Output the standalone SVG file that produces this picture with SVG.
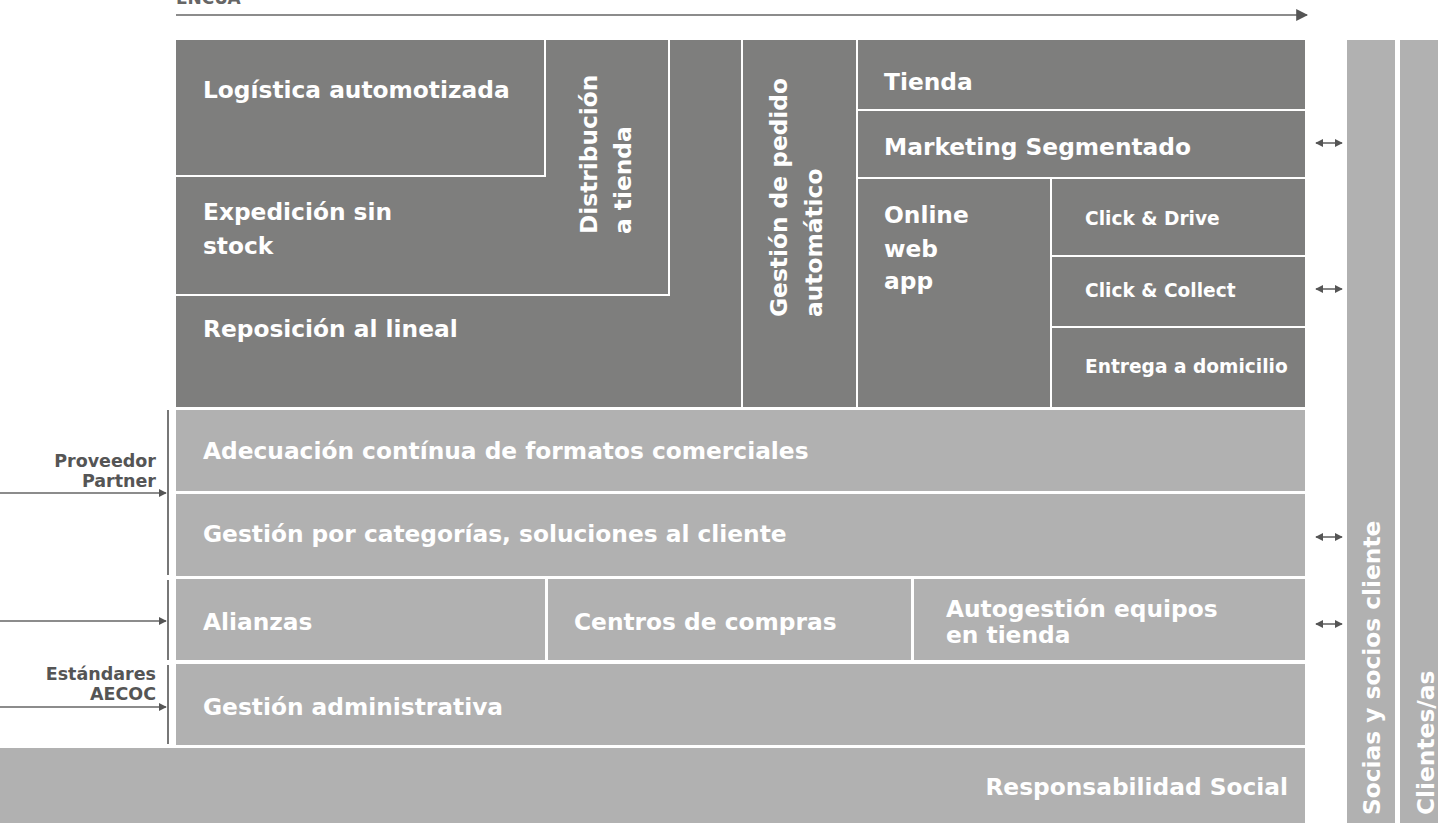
<svg xmlns="http://www.w3.org/2000/svg" width="1438" height="823" viewBox="0 0 1438 823">
<style>
.dk{fill:#7e7e7d}
.lt{fill:#b1b1b1}
.wl{stroke:#ffffff;stroke-width:2;fill:none}
.t{font-family:"DejaVu Sans",sans-serif;font-weight:bold;font-size:23.3px;fill:#ffffff}
.s{font-family:"DejaVu Sans",sans-serif;font-weight:bold;font-size:18.6px;fill:#ffffff}
.lb{font-family:"DejaVu Sans",sans-serif;font-weight:bold;font-size:17.5px;fill:#555555;text-anchor:end}
.ar{stroke:#666666;stroke-width:1.6;fill:none}
.vl{stroke:#555555;stroke-width:1.6;fill:none}
</style>
<defs>
<marker id="ah" viewBox="0 0 10 10" refX="9" refY="5" markerWidth="8" markerHeight="8" markerUnits="userSpaceOnUse" orient="auto-start-reverse">
<path d="M0,0 L10,5 L0,10 Z" fill="#555555"/>
</marker>
<marker id="ahb" viewBox="0 0 10 10" refX="9" refY="5" markerWidth="12" markerHeight="12" markerUnits="userSpaceOnUse" orient="auto">
<path d="M0,0 L10,5 L0,10 Z" fill="#555555"/>
</marker>
</defs>

<text x="176" y="4" font-family="DejaVu Sans,sans-serif" font-weight="bold" font-size="17" fill="#666666">ENCUA</text>

<g id="connectors">
<line class="ar" x1="176" y1="15" x2="1307" y2="15" marker-end="url(#ahb)"/>
<line class="ar" x1="0" y1="493" x2="166" y2="493" marker-end="url(#ah)"/>
<line class="ar" x1="0" y1="621" x2="166" y2="621" marker-end="url(#ah)"/>
<line class="ar" x1="0" y1="707" x2="166" y2="707" marker-end="url(#ah)"/>
<line class="vl" x1="168" y1="410" x2="168" y2="575"/>
<line class="vl" x1="168" y1="580" x2="168" y2="660"/>
<line class="vl" x1="168" y1="665" x2="168" y2="744"/>
<line class="ar" x1="1316" y1="143" x2="1342" y2="143" marker-start="url(#ah)" marker-end="url(#ah)"/>
<line class="ar" x1="1316" y1="289" x2="1342" y2="289" marker-start="url(#ah)" marker-end="url(#ah)"/>
<line class="ar" x1="1316" y1="537" x2="1342" y2="537" marker-start="url(#ah)" marker-end="url(#ah)"/>
<line class="ar" x1="1316" y1="624" x2="1342" y2="624" marker-start="url(#ah)" marker-end="url(#ah)"/>
</g>

<g id="top-block">
<rect class="dk" x="176" y="40" width="1129" height="367"/>
<line class="wl" x1="176" y1="176" x2="546" y2="176"/>
<line class="wl" x1="545" y1="40" x2="545" y2="176"/>
<line class="wl" x1="176" y1="295" x2="670" y2="295"/>
<line class="wl" x1="669" y1="40" x2="669" y2="295"/>
<line class="wl" x1="742" y1="40" x2="742" y2="407"/>
<line class="wl" x1="857" y1="40" x2="857" y2="407"/>
<line class="wl" x1="857" y1="110" x2="1305" y2="110"/>
<line class="wl" x1="857" y1="178" x2="1305" y2="178"/>
<line class="wl" x1="1051" y1="178" x2="1051" y2="407"/>
<line class="wl" x1="1051" y1="256" x2="1305" y2="256"/>
<line class="wl" x1="1051" y1="327" x2="1305" y2="327"/>
</g>

<g id="logistica"><text class="t" x="203" y="98">Logística automotizada</text></g>
<g id="expedicion"><text class="t" x="203" y="220">Expedición sin</text><text class="t" x="203" y="254">stock</text></g>
<g id="reposicion"><text class="t" x="203" y="337">Reposición al lineal</text></g>
<g id="distribucion">
<text class="t" transform="translate(597,234) rotate(-90)">Distribución</text>
<text class="t" transform="translate(631,234) rotate(-90)">a tienda</text>
</g>
<g id="gestion-pedido">
<text class="t" transform="translate(787,317) rotate(-90)">Gestión de pedido</text>
<text class="t" transform="translate(822,317) rotate(-90)">automático</text>
</g>
<g id="tienda"><text class="t" x="884" y="90">Tienda</text></g>
<g id="marketing"><text class="t" x="884" y="155">Marketing Segmentado</text></g>
<g id="online"><text class="t" x="884" y="223">Online</text><text class="t" x="884" y="257">web</text><text class="t" x="884" y="289">app</text></g>
<g id="click-drive"><text class="s" x="1085" y="225">Click &amp; Drive</text></g>
<g id="click-collect"><text class="s" x="1085" y="297">Click &amp; Collect</text></g>
<g id="entrega"><text class="s" x="1085" y="373">Entrega a domicilio</text></g>

<g id="adecuacion"><rect class="lt" x="176" y="410" width="1129" height="81"/><text class="t" x="203" y="459">Adecuación contínua de formatos comerciales</text></g>
<g id="gestion-categorias"><rect class="lt" x="176" y="494" width="1129" height="82"/><text class="t" x="203" y="542">Gestión por categorías, soluciones al cliente</text></g>
<g id="alianzas"><rect class="lt" x="176" y="579" width="369" height="81"/><text class="t" x="203" y="630">Alianzas</text></g>
<g id="centros"><rect class="lt" x="548" y="579" width="363" height="81"/><text class="t" x="574" y="630">Centros de compras</text></g>
<g id="autogestion"><rect class="lt" x="914" y="579" width="391" height="81"/><text class="t" x="946" y="617">Autogestión equipos</text><text class="t" x="946" y="643">en tienda</text></g>
<g id="gestion-admin"><rect class="lt" x="176" y="664" width="1129" height="81"/><text class="t" x="203" y="715">Gestión administrativa</text></g>
<g id="responsabilidad"><rect class="lt" x="0" y="748" width="1305" height="75"/><text class="t" x="1288" y="795" text-anchor="end">Responsabilidad Social</text></g>

<g id="socias"><rect class="lt" x="1347" y="40" width="48" height="783"/><text class="t" transform="translate(1380,815) rotate(-90)">Socias y socios cliente</text></g>
<g id="clientes"><rect class="lt" x="1400" y="40" width="38" height="783"/><text class="t" transform="translate(1434,815) rotate(-90)">Clientes/as</text></g>

<g id="proveedor"><text class="lb" x="156" y="467">Proveedor</text><text class="lb" x="156" y="487">Partner</text></g>
<g id="estandares"><text class="lb" x="156" y="680">Estándares</text><text class="lb" x="156" y="700">AECOC</text></g>
</svg>
